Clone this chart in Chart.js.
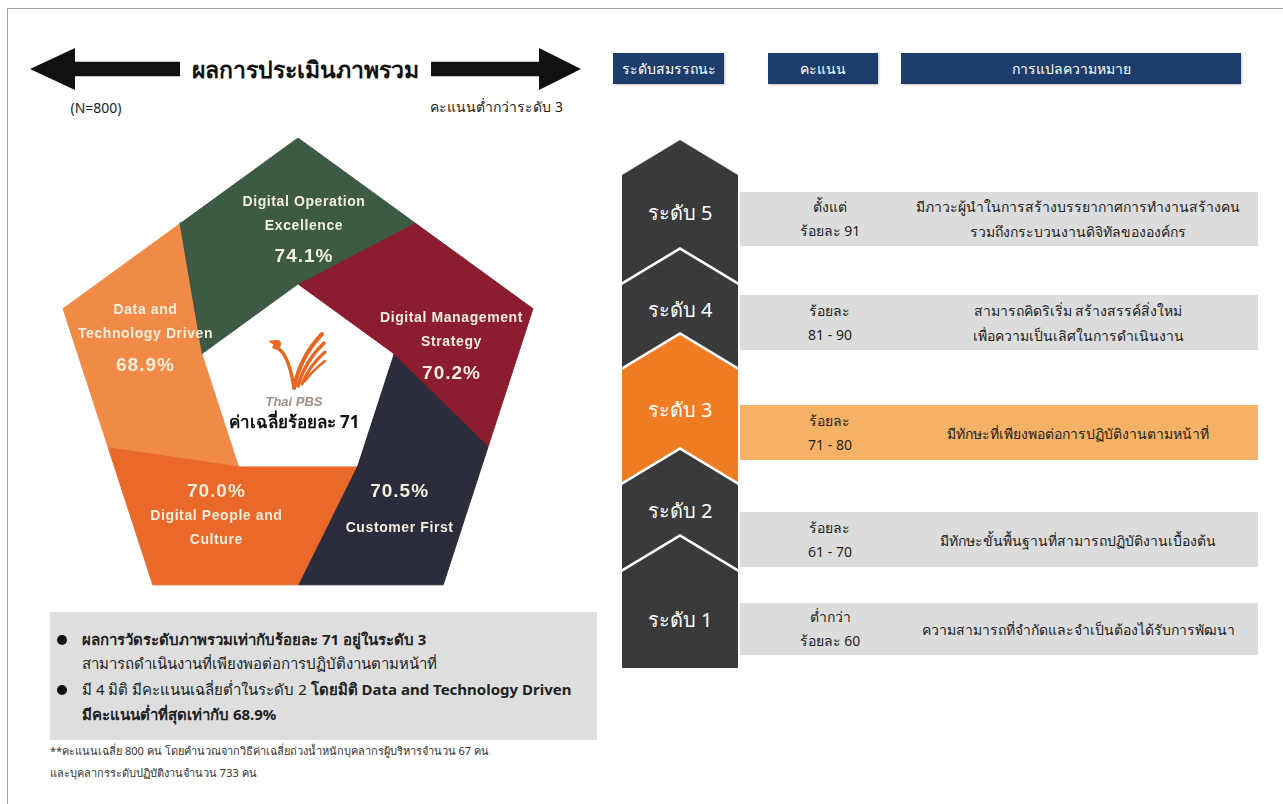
<!DOCTYPE html>
<html lang="th">
<head>
<meta charset="utf-8">
<script src="https://cdn.jsdelivr.net/npm/chart.js@4.4.1/dist/chart.umd.min.js"></script>
<style>
  body { margin:0; width:1283px; height:804px; background:#fff; position:relative; overflow:hidden;
         font-family:"Noto Sans","DejaVu Sans",sans-serif; color:#222; }
  .frame { position:absolute; left:7px; top:8px; right:-2px; bottom:-2px; border-left:1px solid #a0a0a0; border-top:1px solid #a0a0a0; }
  .c { position:absolute; transform:translate(-50%,-50%); white-space:nowrap; text-align:center; }
  .l { position:absolute; transform:translateY(-50%); white-space:nowrap; }
  .arrow { position:absolute; background:#111; }
  .head { position:absolute; top:53px; height:31px; background:#1d3e6c; color:#fff; font-size:14px;
          display:flex; align-items:center; justify-content:center; box-shadow:1px 1px 2px rgba(0,0,0,.25); }
  .bar { position:absolute; left:740px; width:518px; background:#dcdcdc; }
  .bar.hi { background:#f5b265; }
  .chev { position:absolute; left:622px; width:116px; }
  #penta { position:absolute; left:51px; top:138px; }
  .note { position:absolute; left:50px; top:612px; width:547px; height:128px; background:#dedede; }
  .dot { position:absolute; width:10px; height:10px; border-radius:50%; background:#111; }
</style>
</head>
<body>
<div class="frame"></div>

<!-- หัวข้อฝั่งซ้าย -->
<div class="arrow" style="left:30px;top:48px;width:150px;height:42px;clip-path:polygon(0 50%,30% 0,30% 33%,100% 33%,100% 67%,30% 67%,30% 100%)"></div>
<div class="arrow" style="left:431px;top:48px;width:150px;height:42px;clip-path:polygon(100% 50%,72% 0,72% 33%,0 33%,0 67%,72% 67%,72% 100%)"></div>
<div class="c" style="left:305px;top:70px;font-size:23px;font-weight:bold;color:#111">ผลการประเมินภาพรวม</div>
<div class="c" style="left:96px;top:107px;font-size:14px">(N=800)</div>
<div class="l" style="right:720px;top:107px;font-size:14px">คะแนนต่ำกว่าระดับ 3</div>

<canvas id="penta" width="494" height="494"></canvas>

<div class="note"></div>
<div class="dot" style="left:57px;top:635px"></div>
<div class="l" style="left:82px;top:640px;font-size:15px;font-weight:bold">ผลการวัดระดับภาพรวมเท่ากับร้อยละ 71 อยู่ในระดับ 3</div>
<div class="l" style="left:82px;top:664px;font-size:15px">สามารถดำเนินงานที่เพียงพอต่อการปฏิบัติงานตามหน้าที่</div>
<div class="dot" style="left:57px;top:685px"></div>
<div class="l" style="left:82px;top:690px;font-size:15px">มี 4 มิติ มีคะแนนเฉลี่ยต่ำในระดับ 2 <b>โดยมิติ Data and Technology Driven</b></div>
<div class="l" style="left:82px;top:715px;font-size:15px;font-weight:bold">มีคะแนนต่ำที่สุดเท่ากับ 68.9%</div>
<div class="l" style="left:50px;top:751px;font-size:11px;color:#333">**คะแนนเฉลี่ย 800 คน โดยคำนวณจากวิธีค่าเฉลี่ยถ่วงน้ำหนักบุคลากรผู้บริหารจำนวน 67 คน</div>
<div class="l" style="left:50px;top:773px;font-size:11px;color:#333">และบุคลากรระดับปฏิบัติงานจำนวน 733 คน</div>

<!-- หัวตารางฝั่งขวา -->
<div class="head" style="left:613px;width:111px">ระดับสมรรถนะ</div>
<div class="head" style="left:768px;width:110px">คะแนน</div>
<div class="head" style="left:901px;width:340px">การแปลความหมาย</div>

<div id="levels"></div>

<script>
// ข้อมูลมิติ (ตามลำดับตามเข็มนาฬิกาจากด้านบน)
const dimensionNames = [
  ['Digital Operation', 'Excellence'],
  ['Digital Management', 'Strategy'],
  ['Customer First'],
  ['Digital People and', 'Culture'],
  ['Data and', 'Technology Driven']
];
const dimensionScores = [74.1, 70.2, 70.5, 70.0, 68.9];
const segmentColors = ['#3d5a45', '#8b1d2e', '#2b2d3c', '#e9682a', '#f08a46'];
const averageScore = 71;

// ระดับสมรรถนะ
const levelNames = ['ระดับ 5', 'ระดับ 4', 'ระดับ 3', 'ระดับ 2', 'ระดับ 1'];
const levelScores = [
  ['ตั้งแต่', 'ร้อยละ 91'],
  ['ร้อยละ', '81 - 90'],
  ['ร้อยละ', '71 - 80'],
  ['ร้อยละ', '61 - 70'],
  ['ต่ำกว่า', 'ร้อยละ 60']
];
const levelMeanings = [
  ['มีภาวะผู้นำในการสร้างบรรยากาศการทำงานสร้างคน', 'รวมถึงกระบวนงานดิจิทัลขององค์กร'],
  ['สามารถคิดริเริ่ม สร้างสรรค์สิ่งใหม่', 'เพื่อความเป็นเลิศในการดำเนินงาน'],
  ['มีทักษะที่เพียงพอต่อการปฏิบัติงานตามหน้าที่'],
  ['มีทักษะขั้นพื้นฐานที่สามารถปฏิบัติงานเบื้องต้น'],
  ['ความสามารถที่จำกัดและจำเป็นต้องได้รับการพัฒนา']
];
const currentLevel = 3;

// รูปห้าเหลี่ยม: 10 แกน (จุดยอด + กึ่งกลางขอบ)
const spokeLabels = ['', '', '', '', '', '', '', '', '', ''];
const shapeOuter = 1, shapeEdgeMid = 0.809, shapeInner = 0.405;

// layout
const rowTop = [192, 295, 405, 512, 603];
const rowHeight = [54, 55, 55, 55, 52];
const chevronTip = [140, 250, 335, 450, 537];
const chevronBottom = 668, shoulder = 35;
const labelShift = [[6, 4], [2, 10], [8, -4], [12, 2], [-1, 2]];

function fanValues(i) {
  const n = spokeLabels.length;
  const v = new Array(n).fill(0);
  v[(2 * i - 2 + n) % n] = shapeInner;
  v[(2 * i - 1 + n) % n] = shapeEdgeMid;
  v[2 * i] = shapeOuter;
  v[(2 * i + 1) % n] = shapeEdgeMid;
  return v;
}

const datasets = dimensionNames.map((d, i) => ({
  data: fanValues(i),
  backgroundColor: segmentColors[i],
  borderColor: segmentColors[i],
  borderWidth: 1,
  fill: true,
  order: 10 - i
}));
// ชิ้นส่วนที่เหลือของมิติแรก (ทับมิติสุดท้าย)
const patch = new Array(spokeLabels.length).fill(0);
patch[8] = shapeInner; patch[9] = shapeEdgeMid;
datasets.push({ data: patch, backgroundColor: segmentColors[0], borderColor: segmentColors[0], borderWidth: 2, borderJoinStyle: 'round', fill: true, order: 2 });
// ห้าเหลี่ยมสีขาวตรงกลาง
const innerShape = spokeLabels.map((s, k) => k % 2 === 0 ? shapeInner : shapeInner * shapeEdgeMid);
datasets.push({ data: innerShape, backgroundColor: '#ffffff', borderColor: '#ffffff', borderWidth: 1, fill: true, order: 1 });

const labelPlugin = {
  id: 'segmentLabels',
  afterDatasetsDraw(chart) {
    const ctx = chart.ctx;
    const r = chart.scales.r;
    ctx.save();
    ctx.textAlign = 'center';
    ctx.textBaseline = 'middle';
    dimensionNames.forEach((lines, i) => {
      const p = r.getPointPositionForValue(i * 2, 0.645);
      const cx = p.x + labelShift[i][0], cy = p.y + labelShift[i][1];
      const pct = dimensionScores[i].toFixed(1) + '%';
      const pctFirst = (i === 2 || i === 3);
      let items = [];
      if (pctFirst) {
        items.push({ t: pct, big: true, y: 0 });
        lines.forEach((t, k) => items.push({ t, big: false, y: (i === 2 ? 37 : 24) + k * 24 }));
      } else {
        lines.forEach((t, k) => items.push({ t, big: false, y: k * 24 }));
        items.push({ t: pct, big: true, y: (lines.length - 1) * 24 + 31 });
      }
      const h = items[items.length - 1].y;
      ctx.fillStyle = '#f4eedc';
      items.forEach(it => {
        ctx.font = it.big ? 'bold 19px "Liberation Sans", Arial, sans-serif' : 'bold 14px "Liberation Sans", Arial, sans-serif';
        ctx.letterSpacing = it.big ? '1px' : '0.6px';
        ctx.fillText(it.t, cx, cy - h / 2 + it.y);
      });
    });
    ctx.letterSpacing = '0px';

    // โลโก้ Thai PBS (โดยประมาณ)
    const c = r.getPointPositionForValue(0, 0);
    const ox = c.x, oy = c.y;
    ctx.lineCap = 'round';
    ctx.strokeStyle = '#e8661f';
    const strokes = [
      [-4, 3, 2, -28, 24, -51, 4],
      [0, 1, 7, -24, 26, -42, 3.5],
      [4, -1, 11, -19, 27, -33, 3],
      [7, -4, 14, -14, 27, -24, 2.5]
    ];
    strokes.forEach(s => {
      ctx.lineWidth = s[6];
      ctx.beginPath();
      ctx.moveTo(ox + s[0], oy + s[1]);
      ctx.quadraticCurveTo(ox + s[2], oy + s[3], ox + s[4], oy + s[5]);
      ctx.stroke();
    });
    ctx.lineWidth = 3.5;
    ctx.beginPath();
    ctx.moveTo(ox - 24, oy - 38);
    ctx.quadraticCurveTo(ox - 10, oy - 36, ox - 4, oy + 3);
    ctx.stroke();
    ctx.fillStyle = '#e8661f';
    ctx.beginPath();
    ctx.arc(ox - 21, oy - 41, 4, 0, Math.PI * 2);
    ctx.fill();
    ctx.beginPath();
    ctx.moveTo(ox - 30, oy - 44); ctx.lineTo(ox - 22, oy - 45); ctx.lineTo(ox - 24, oy - 40); ctx.closePath();
    ctx.fill();

    ctx.font = 'italic bold 13px "Liberation Sans", Arial, sans-serif';
    ctx.fillStyle = '#a08e84';
    ctx.fillText('Thai PBS', ox - 4, oy + 17);
    ctx.font = 'bold 17px "Noto Sans", "DejaVu Sans", sans-serif';
    ctx.fillStyle = '#111';
    ctx.fillText('ค่าเฉลี่ยร้อยละ ' + averageScore, ox - 4, oy + 38);
    ctx.restore();
  }
};

new Chart(document.getElementById('penta'), {
  type: 'radar',
  data: { labels: spokeLabels, datasets },
  options: {
    responsive: false,
    animation: false,
    devicePixelRatio: 1,
    layout: { padding: 0 },
    plugins: { legend: { display: false }, tooltip: { enabled: false } },
    elements: { point: { radius: 0, hoverRadius: 0 }, line: { tension: 0 } },
    scales: {
      r: {
        min: 0, max: 1,
        grid: { display: false },
        angleLines: { display: false },
        ticks: { display: false },
        pointLabels: { display: false }
      }
    }
  },
  plugins: [labelPlugin]
});

// ตารางระดับสมรรถนะ
const box = document.getElementById('levels');
let html = '';
levelNames.forEach((name, i) => {
  const lvl = 5 - i;
  const hi = lvl === currentLevel;
  const tip = chevronTip[i];
  if (i > 0) {
    html += `<div class="chev" style="top:${tip - 3}px;height:${chevronBottom - tip + 3}px;background:#fff;z-index:${i * 2};clip-path:polygon(50% 0,100% ${shoulder}px,100% 100%,0 100%,0 ${shoulder}px)"></div>`;
  }
  html += `<div class="chev" style="top:${tip}px;height:${chevronBottom - tip}px;background:${hi ? '#ef7b22' : '#3a3a3c'};z-index:${i * 2 + 1};clip-path:polygon(50% 0,100% ${shoulder}px,100% 100%,0 100%,0 ${shoulder}px)"></div>`;
  const next = i < 4 ? chevronTip[i + 1] : chevronBottom;
  const ty = (tip + shoulder + next) / 2;
  html += `<div class="c" style="left:680px;top:${ty}px;font-size:20px;color:#fff;z-index:20">${name}</div>`;
  html += `<div class="bar${hi ? ' hi' : ''}" style="top:${rowTop[i]}px;height:${rowHeight[i]}px"></div>`;
  const mid = rowTop[i] + rowHeight[i] / 2;
  html += `<div class="c" style="left:830px;top:${mid}px;font-size:14px;line-height:24px;color:#222">${levelScores[i].join('<br>')}</div>`;
  html += `<div class="c" style="left:1078px;top:${mid}px;font-size:14px;line-height:25px;color:#222">${levelMeanings[i].join('<br>')}</div>`;
});
box.innerHTML = html;
</script>
</body>
</html>
